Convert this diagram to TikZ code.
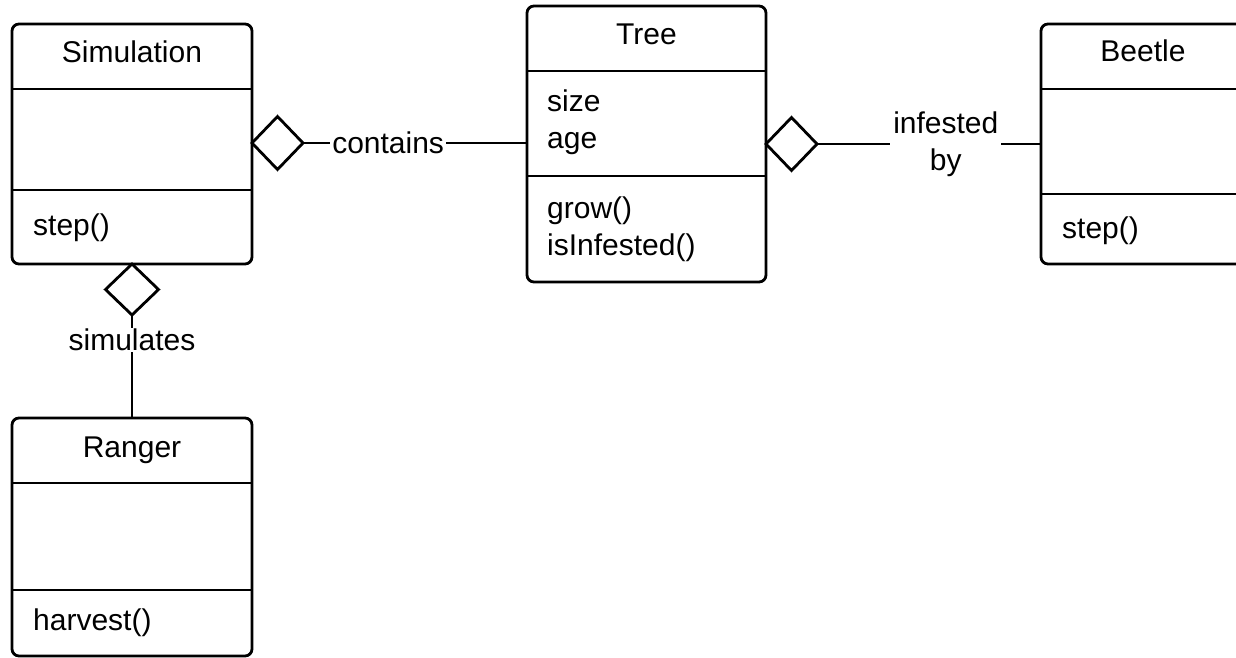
\documentclass[tikz,border=0pt]{standalone}
\usepackage{fontspec}
\setmainfont{Liberation Sans}
\usetikzlibrary{shapes.geometric}
\begin{document}
\begin{tikzpicture}[x=1pt,y=-1pt,
  cls/.style={draw, line width=2.8pt, rounded corners=7pt, rectangle, inner sep=0pt, outer sep=0pt},
  divline/.style={line width=2.8pt},
  conn/.style={line width=2.8pt},
  agg/.style={draw, diamond, line width=2.8pt, fill=white, inner sep=0pt, outer sep=0pt, minimum width=51pt, minimum height=53pt},
  ttl/.style={anchor=base, inner sep=0pt, font=\fontsize{30}{37}\selectfont},
  mem/.style={anchor=base west, inner sep=0pt, font=\fontsize{30}{37}\selectfont},
  lbl/.style={fill=white, inner sep=2pt, font=\fontsize{30}{37}\selectfont, align=center}
]
\useasboundingbox[fill=white] (0,0) rectangle (1236,658);

% Simulation
\node[cls, minimum width=240pt, minimum height=240pt] (sim) at (132,144) {};
\draw[divline] (sim.west |- 0,89) -- (sim.east |- 0,89);
\draw[divline] (sim.west |- 0,190) -- (sim.east |- 0,190);
\node[ttl] (simT) at (132,63) {Simulation};
\node[mem] (simM) at (33,235) {step()};

% Tree
\node[cls, minimum width=239pt, minimum height=276pt] (tree) at (646.5,144) {};
\draw[divline] (tree.west |- 0,71) -- (tree.east |- 0,71);
\draw[divline] (tree.west |- 0,176) -- (tree.east |- 0,176);
\node[ttl] (treeT) at (646.5,45) {Tree};
\node[mem] (treeA1) at (547,112) {size};
\node[mem] (treeA2) at (547,148) {age};
\node[mem] (treeM1) at (547,218) {grow()};
\node[mem] (treeM2) at (547,255) {isInfested()};

% Beetle
\node[cls, minimum width=240pt, minimum height=240pt] (beetle) at (1161,144) {};
\draw[divline] (beetle.west |- 0,89) -- (beetle.east |- 0,89);
\draw[divline] (beetle.west |- 0,194) -- (beetle.east |- 0,194);
\node[ttl] (beetleT) at (1143,62) {Beetle};
\node[mem] (beetleM) at (1062,238) {step()};

% Ranger
\node[cls, minimum width=240pt, minimum height=238pt] (ranger) at (132,537) {};
\draw[divline] (ranger.west |- 0,483) -- (ranger.east |- 0,483);
\draw[divline] (ranger.west |- 0,590) -- (ranger.east |- 0,590);
\node[ttl] (rangerT) at (132,457) {Ranger};
\node[mem] (rangerM) at (33,630) {harvest()};

% Aggregation diamonds
\node[agg, anchor=west] (d1) at (sim.east |- 0,143) {};
\node[agg, anchor=west] (d2) at (tree.east |- 0,144) {};
\node[agg, anchor=north, minimum width=53pt, minimum height=51pt] (d3) at (sim.south) {};

% Connectors
\draw[conn] (d1.east) -- (tree.west |- d1.east)
  node[lbl, pos=0.38] (lcontains) {contains};
\draw[conn] (d2.east) -- (beetle.west |- d2.east)
  node[lbl, pos=0.575, inner sep=3pt] (linfested) {infested\\by};
\draw[conn] (d3.south) -- (ranger.north)
  node[lbl, pos=0.24, inner sep=1pt] (lsimulates) {simulates};
\end{tikzpicture}
\end{document}
